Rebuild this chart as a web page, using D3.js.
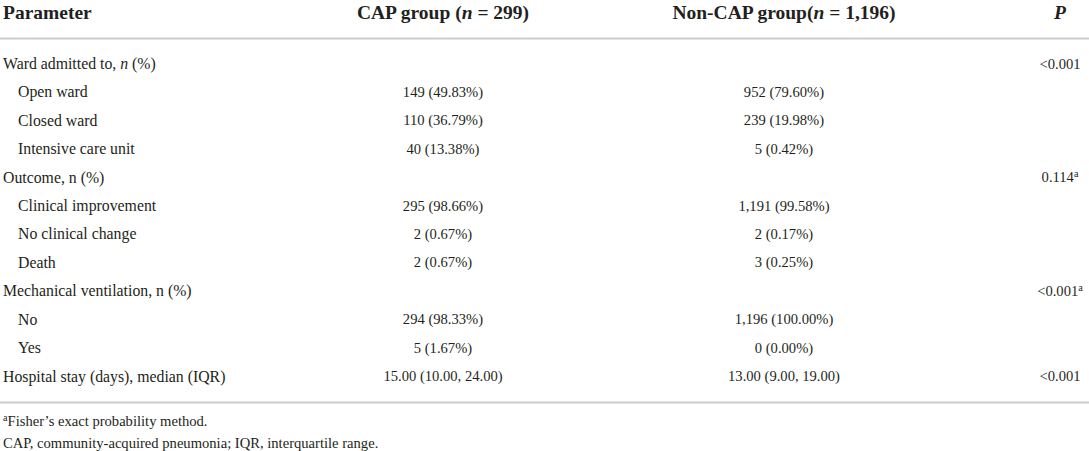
<!DOCTYPE html>
<html>
<head>
<meta charset="utf-8">
<script src="https://cdn.jsdelivr.net/npm/d3@7"></script>
<style>
  html, body { margin: 0; padding: 0; background: #fff; }
  svg { display: block; }
</style>
</head>
<body>
<div id="chart-area"></div>
<script>
// table contents; _x_ marks italic, ^x marks superscript
const headers = ["Parameter", "CAP group (_n_ = 299)", "Non-CAP group(_n_ = 1,196)", "_P_"];
const rowLabels = [
    "Ward admitted to, _n_ (%)",
    "Open ward",
    "Closed ward",
    "Intensive care unit",
    "Outcome, n (%)",
    "Clinical improvement",
    "No clinical change",
    "Death",
    "Mechanical ventilation, n (%)",
    "No",
    "Yes",
    "Hospital stay (days), median (IQR)"
];
const rowLevel = [0, 1, 1, 1, 0, 1, 1, 1, 0, 1, 1, 0];
const capValues = ["", "149 (49.83%)", "110 (36.79%)", "40 (13.38%)", "", "295 (98.66%)", "2 (0.67%)", "2 (0.67%)", "", "294 (98.33%)", "5 (1.67%)", "15.00 (10.00, 24.00)"];
const nonCapValues = ["", "952 (79.60%)", "239 (19.98%)", "5 (0.42%)", "", "1,191 (99.58%)", "2 (0.17%)", "3 (0.25%)", "", "1,196 (100.00%)", "0 (0.00%)", "13.00 (9.00, 19.00)"];
const pValues = ["<0.001", "", "", "", "0.114^a", "", "", "", "<0.001^a", "", "", "<0.001"];
const footnotes = ["^aFisher\u2019s exact probability method.", "CAP, community-acquired pneumonia; IQR, interquartile range."];

function renderTable() {
    const svgWidth = 1089;
    const svgHeight = 451;
    const font = "'Liberation Serif', 'Times New Roman', serif";
    const textColor = "#231f20";
    const ruleColor = "#cccccc";

    const svg = d3.select("#chart-area")
        .append("svg")
        .attr("width", svgWidth)
        .attr("height", svgHeight)
        .style("font-family", font)
        .style("fill", textColor);

    // columns: x position + anchor
    const colX = d3.scaleOrdinal()
        .domain(["param", "cap", "noncap", "p"])
        .range([3, 443, 784, 1060]);
    const colAnchor = { param: "start", cap: "middle", noncap: "middle", p: "middle" };
    const indent = 15;

    const rowY = d3.scalePoint()
        .domain(d3.range(rowLabels.length))
        .range([63.5, 376]);

    // write "_it_" / "^sup" markup as tspans
    function rich(sel, str) {
        const parts = str.split(/(_[^_]+_|\^[a-z])/).filter(s => s !== "");
        parts.forEach(p => {
            if (p.startsWith("_")) {
                sel.append("tspan").style("font-style", "italic").text(p.slice(1, -1));
            } else if (p.startsWith("^")) {
                sel.append("tspan")
                    .attr("baseline-shift", "super")
                    .style("font-size", "0.7em")
                    .text(p.slice(1));
            } else {
                sel.append("tspan").text(p);
            }
        });
    }

    // header
    const cols = colX.domain();
    svg.append("g").attr("class", "header")
        .selectAll("text")
        .data(headers)
        .join("text")
        .attr("x", (d, i) => colX(cols[i]))
        .attr("y", 12.5)
        .attr("dy", "0.35em")
        .attr("text-anchor", (d, i) => colAnchor[cols[i]])
        .style("font-size", "19.5px")
        .style("font-weight", "bold")
        .each(function(d) { rich(d3.select(this), d); });

    // rules
    svg.append("g").attr("class", "rules")
        .selectAll("line")
        .data([38.5, 402.5])
        .join("line")
        .attr("x1", 0)
        .attr("x2", svgWidth)
        .attr("y1", d => d)
        .attr("y2", d => d)
        .attr("stroke", ruleColor)
        .attr("stroke-width", 2);

    // body rows
    const rows = svg.append("g").attr("class", "body")
        .selectAll("g")
        .data(rowLabels.map((label, i) => ({
            i, label, level: rowLevel[i],
            cap: capValues[i], noncap: nonCapValues[i], p: pValues[i]
        })))
        .join("g")
        .attr("transform", d => `translate(0,${rowY(d.i)})`);

    rows.append("text")
        .attr("x", d => colX("param") + d.level * indent)
        .attr("dy", "0.35em")
        .style("font-size", "15.8px")
        .each(function(d) { rich(d3.select(this), d.label); });

    ["cap", "noncap", "p"].forEach(key => {
        rows.filter(d => d[key] !== "")
            .append("text")
            .attr("x", colX(key))
            .attr("dy", "0.35em")
            .attr("text-anchor", colAnchor[key])
            .style("font-size", "14.6px")
            .each(function(d) { rich(d3.select(this), d[key]); });
    });

    // footnotes
    svg.append("g").attr("class", "footnotes")
        .selectAll("text")
        .data(footnotes)
        .join("text")
        .attr("x", 3)
        .attr("y", (d, i) => 421 + i * 21.5)
        .attr("dy", "0.35em")
        .style("font-size", "14.6px")
        .each(function(d) { rich(d3.select(this), d); });
}

renderTable();
</script>
</body>
</html>
